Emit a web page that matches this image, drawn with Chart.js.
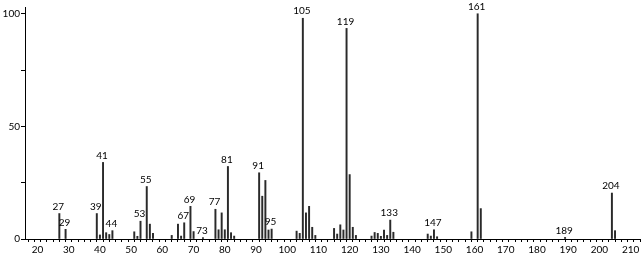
<!DOCTYPE html>
<html>
<head>
<meta charset="utf-8">
<script src="https://cdn.jsdelivr.net/npm/chart.js@4.4.1/dist/chart.umd.min.js"></script>
<style>
  html, body { margin: 0; padding: 0; background: #fff; }
  #wrap { width: 644px; height: 256px; }
</style>
</head>
<body>
<div id="wrap"><canvas id="chart1"></canvas></div>
<script>
// mass spectrum: m/z and relative intensity
const mz = [27, 29, 39, 40, 41, 42, 43, 44, 51, 52, 53, 55, 56, 57,
    63, 65, 66, 67, 69, 70, 73, 77, 78, 79, 80, 81, 82, 83,
    91, 92, 93, 94, 95, 103, 104, 105, 106, 107, 108, 109,
    115, 116, 117, 118, 119, 120, 121, 122, 127, 128, 129, 130, 131, 132, 133, 134,
    145, 146, 147, 148, 159, 161, 162, 189, 204, 205];
const intensity = [11.3, 4.3, 11.3, 1.8, 34, 2.8, 2, 3.7, 3.2, 1.2, 7.9, 23.3, 6.6, 2.5,
    1.6, 6.6, 1.3, 7.2, 14.5, 3.3, 0.6, 13.2, 4.1, 11.6, 4.1, 32.2, 2.8, 1.3,
    29.4, 19, 26, 4, 4.4, 3.5, 2.5, 98, 11.6, 14.5, 5.2, 1.6,
    4.7, 2.2, 6.3, 4, 93.5, 28.6, 5.2, 1.6, 1.3, 2.9, 2.5, 1.2, 4, 1.6, 8.4, 3,
    2.2, 1.3, 4.1, 1, 3.2, 100, 13.5, 0.7, 20.4, 3.7];
const labelledPeaks = [27, 29, 39, 41, 44, 53, 55, 67, 69, 73, 77, 81, 91, 95,
    105, 119, 133, 147, 161, 189, 204];
const yTickLabels = [0, 50, 100];

const fontFamily = 'Lato, "DejaVu Sans", sans-serif';

const peakLabels = {
    id: 'peakLabels',
    afterDatasetsDraw(chart) {
        const ctx = chart.ctx;
        const meta = chart.getDatasetMeta(0);
        ctx.save();
        ctx.font = '10px ' + fontFamily;
        ctx.fillStyle = '#000';
        ctx.textAlign = 'center';
        ctx.textBaseline = 'bottom';
        labelledPeaks.forEach(function (m) {
            const i = mz.indexOf(m);
            if (i < 0) return;
            const el = meta.data[i];
            ctx.fillText(String(m), el.x - 1, el.y - 2);
        });
        ctx.restore();
    }
};

const ctx = document.getElementById('chart1');

new Chart(ctx, {
    type: 'bar',
    data: {
        datasets: [{
            data: mz.map(function (m, i) { return { x: m, y: intensity[i] }; }),
            backgroundColor: '#2a2a2a',
            barThickness: 1.3,
            borderWidth: 0
        }]
    },
    options: {
        responsive: true,
        maintainAspectRatio: false,
        animation: false,
        layout: { padding: { top: 6, right: 4, left: 0, bottom: 0 } },
        plugins: {
            legend: { display: false },
            tooltip: { enabled: false }
        },
        scales: {
            x: {
                type: 'linear',
                min: 16,
                max: 213,
                offset: false,
                grid: { drawOnChartArea: false, drawTicks: true, tickLength: 3, color: '#000' },
                border: { color: '#000', width: 1 },
                ticks: {
                    stepSize: 2,
                    autoSkip: false,
                    maxRotation: 0,
                    includeBounds: false,
                    padding: 2,
                    color: '#000',
                    font: { family: fontFamily, size: 10 },
                    callback: function (v) { return v % 10 === 0 ? String(v) : ''; }
                },
                afterFit: function (scale) { scale.height = 17; }
            },
            y: {
                min: 0,
                max: 103,
                grid: { drawOnChartArea: false, drawTicks: true, tickLength: 4, color: '#000' },
                border: { color: '#000', width: 1 },
                ticks: {
                    stepSize: 25,
                    includeBounds: false,
                    padding: 1,
                    color: '#000',
                    font: { family: fontFamily, size: 10 },
                    callback: function (v) { return yTickLabels.indexOf(v) >= 0 ? String(v) : ''; }
                },
                afterFit: function (scale) { scale.width = 25; }
            }
        }
    },
    plugins: [peakLabels]
});
</script>
</body>
</html>
